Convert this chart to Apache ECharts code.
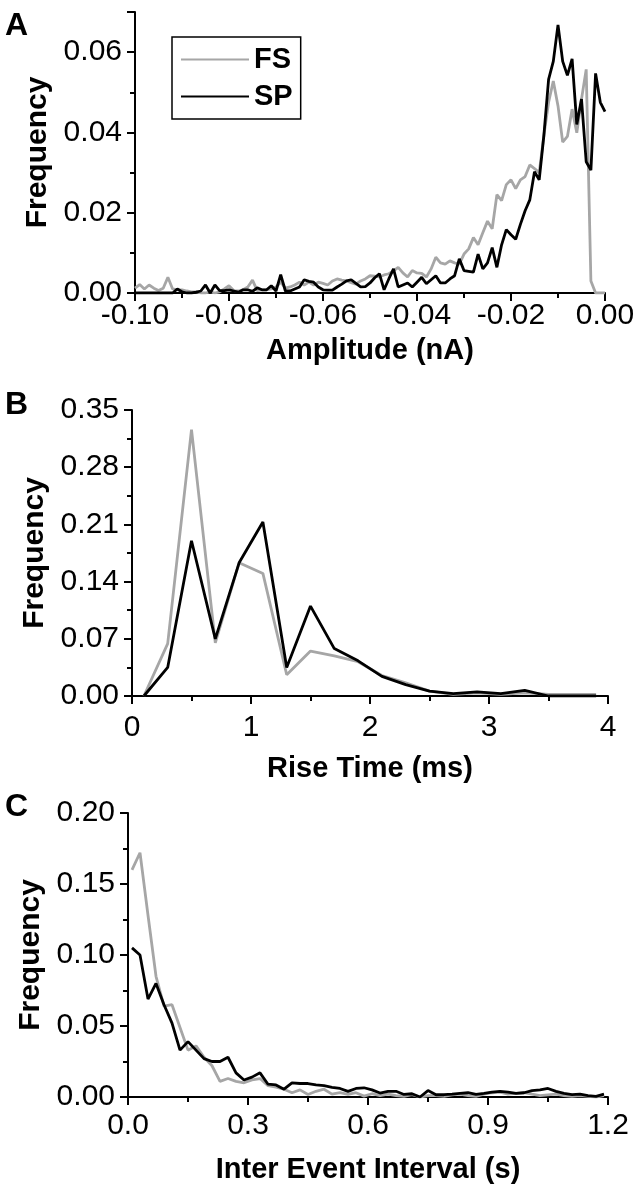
<!DOCTYPE html>
<html><head><meta charset="utf-8">
<script src="https://cdn.jsdelivr.net/npm/echarts@6/dist/echarts.min.js"></script>
<style>html,body{margin:0;padding:0;background:#fff}#c{width:638px;height:1199px}</style>
</head><body><div id="c"></div>
<script>
// ---------- Panel A: Amplitude (nA) ----------
const ampX = [-0.100,-0.099,-0.098,-0.097,-0.096,-0.095,-0.094,-0.093,-0.092,-0.091,
-0.090,-0.089,-0.088,-0.087,-0.086,-0.085,-0.084,-0.083,-0.082,-0.081,
-0.080,-0.079,-0.078,-0.077,-0.076,-0.075,-0.074,-0.073,-0.072,-0.071,
-0.070,-0.069,-0.068,-0.067,-0.066,-0.065,-0.064,-0.063,-0.062,-0.061,
-0.060,-0.059,-0.058,-0.057,-0.056,-0.055,-0.054,-0.053,-0.052,-0.051,
-0.050,-0.049,-0.048,-0.047,-0.046,-0.045,-0.044,-0.043,-0.042,-0.041,
-0.040,-0.039,-0.038,-0.037,-0.036,-0.035,-0.034,-0.033,-0.032,-0.031,
-0.030,-0.029,-0.028,-0.027,-0.026,-0.025,-0.024,-0.023,-0.022,-0.021,
-0.020,-0.019,-0.018,-0.017,-0.016,-0.015,-0.014,-0.013,-0.012,-0.011,
-0.010,-0.009,-0.008,-0.007,-0.006,-0.005,-0.004,-0.003,-0.002,-0.001,
0.000];
const ampFS = [0.0012,0.0021,0.001,0.002,0.0012,0.0006,0.0012,0.0039,0.001,0.0008,
0.0008,0.0005,0.0003,0.0003,0.0,0.0,0.0003,0.0,0.0003,0.001,
0.0018,0.0006,0.0005,0.0008,0.0015,0.0032,0.0006,0.0008,0.0008,0.001,
0.0015,0.0027,0.0012,0.0015,0.002,0.0027,0.002,0.0027,0.002,0.0027,
0.0024,0.002,0.003,0.0035,0.0032,0.003,0.0026,0.0022,0.003,0.0035,
0.0043,0.0042,0.004,0.0045,0.0048,0.0055,0.0064,0.005,0.004,0.0056,
0.005,0.0049,0.004,0.006,0.0089,0.0075,0.0072,0.008,0.0075,0.0072,
0.0097,0.011,0.0138,0.012,0.015,0.0179,0.016,0.0245,0.023,0.027,
0.0282,0.026,0.0282,0.029,0.0319,0.031,0.030,0.0393,0.0475,0.0528,
0.0466,0.0376,0.039,0.0458,0.0399,0.0483,0.0557,0.003,0.0,0.0,
0.0];
const ampSP = [0,0,0,0,0,0,0,0,0,0.001,
0.0003,0,0,0.0002,0.0005,0.002,0.0,0.002,0.0006,0.0006,
0.0008,0.0005,0.0002,0.0008,0.0008,0.0004,0.0013,0.0008,0.0008,0.0018,
0.0005,0.0046,0.0005,0.0005,0.001,0.0015,0.0033,0.0029,0.0027,0.0015,
0.0008,0.0007,0.0007,0.0015,0.0022,0.003,0.0033,0.0024,0.0015,0.0016,
0.0025,0.0038,0.0048,0.0008,0.0035,0.006,0.0015,0.002,0.0025,0.0015,
0.0027,0.0039,0.0023,0.0033,0.0043,0.0025,0.0025,0.0035,0.0043,0.0085,
0.0056,0.0054,0.0052,0.0097,0.006,0.0075,0.0113,0.0064,0.012,0.0158,
0.0145,0.0134,0.0171,0.0205,0.0232,0.0302,0.0282,0.0393,0.0532,0.0577,
0.0668,0.0577,0.0542,0.0583,0.042,0.0483,0.0327,0.0306,0.0547,0.0475,
0.0452];

// ---------- Panel B: Rise Time (ms) ----------
const riseX  = [0.1,0.3,0.5,0.7,0.9,1.1,1.3,1.5,1.7,1.9,2.1,2.3,2.5,2.7,2.9,3.1,3.3,3.5,3.7,3.9];
const riseFS = [0,0.064,0.326,0.065,0.163,0.150,0.026,0.055,0.049,0.042,0.025,0.016,0.006,0.002,0.004,0.002,0.004,0.002,0.002,0.002];
const riseSP = [0,0.035,0.190,0.070,0.163,0.213,0.035,0.110,0.058,0.043,0.024,0.014,0.006,0.003,0.005,0.003,0.007,0.0,0.0,0.0];

// ---------- Panel C: Inter Event Interval (s) ----------
const ieiX = [0.01,0.03,0.05,0.07,0.09,0.11,0.13,0.15,0.17,0.19,
0.21,0.23,0.25,0.27,0.29,0.31,0.33,0.35,0.37,0.39,
0.41,0.43,0.45,0.47,0.49,0.51,0.53,0.55,0.57,0.59,
0.61,0.63,0.65,0.67,0.69,0.71,0.73,0.75,0.77,0.79,
0.81,0.83,0.85,0.87,0.89,0.91,0.93,0.95,0.97,0.99,
1.01,1.03,1.05,1.07,1.09,1.11,1.13,1.15,1.17,1.19];
const ieiFS = [0.160,0.172,0.128,0.085,0.064,0.065,0.049,0.033,0.036,0.028,
0.022,0.011,0.013,0.011,0.010,0.012,0.013,0.008,0.007,0.0055,
0.003,0.005,0.0018,0.004,0.0055,0.002,0.003,0.0018,0.003,0.0006,
0.0023,0.001,0.002,0.001,0.0005,0.0017,0.0,0.001,0.001,0.0005,
0.0015,0.002,0.001,0.0005,0.002,0.003,0.0035,0.002,0.0025,0.003,
0.002,0.001,0.0015,0.002,0.001,0.0005,0.001,0.0005,0.0,0.001];
const ieiSP = [0.105,0.100,0.069,0.080,0.065,0.052,0.033,0.039,0.033,0.027,
0.025,0.025,0.028,0.017,0.012,0.014,0.017,0.009,0.0085,0.0055,
0.010,0.0095,0.0095,0.0085,0.008,0.0068,0.006,0.004,0.006,0.0065,
0.005,0.0028,0.004,0.004,0.0018,0.0023,0.0,0.0045,0.0016,0.0016,
0.002,0.0025,0.003,0.0018,0.0025,0.0035,0.004,0.0035,0.0025,0.003,
0.0045,0.005,0.006,0.004,0.0025,0.0016,0.002,0.001,0.0005,0.002];

const FONT = '"Liberation Sans", Arial, Helvetica, sans-serif';
const GREY = '#a6a6a6';
const pair = (xs, ys) => xs.map((x, i) => [x, ys[i]]);

const axisBase = {
  axisLine: {show: true, onZero: false, lineStyle: {color: '#000', width: 2}},
  axisTick: {show: true, inside: false, length: 8, lineStyle: {color: '#000', width: 2}},
  minorTick: {show: true, splitNumber: 2, length: 5, lineStyle: {color: '#000', width: 2}},
  splitLine: {show: false},
  axisLabel: {color: '#000', fontSize: 30, fontFamily: FONT},
  nameLocation: 'middle'
};
function xAx(idx, min, max, interval, dec, name, margin, gap) {
  return Object.assign({}, axisBase, {
    type: 'value', gridIndex: idx, min, max, interval, name, nameGap: gap,
    nameTextStyle: {color: '#000', fontSize: 29, fontWeight: 'bold', fontFamily: FONT},
    axisLabel: Object.assign({}, axisBase.axisLabel, {margin, formatter: v => v.toFixed(dec)})
  });
}
function yAx(idx, min, max, interval, dec, extra) {
  return Object.assign({}, axisBase, {
    type: 'value', gridIndex: idx, min, max, interval, name: 'Frequency', nameGap: 82,
    nameTextStyle: {color: '#000', fontSize: 30, fontWeight: 'bold', fontFamily: FONT},
    axisLabel: Object.assign({}, axisBase.axisLabel, {margin: 13, formatter: v => v.toFixed(dec)}, extra || {})
  });
}
function line(name, idx, data, color) {
  return {
    type: 'line', name, xAxisIndex: idx, yAxisIndex: idx, data, symbol: 'none',
    lineStyle: {color, width: 2.8}, itemStyle: {color}, z: name === 'SP' ? 3 : 2, animation: false
  };
}
const letterStyle = {fontSize: 32, fontWeight: 'bold', fontFamily: FONT, color: '#000'};

const chart = echarts.init(document.getElementById('c'), null, {renderer: 'canvas'});
chart.setOption({
  backgroundColor: '#fff',
  animation: false,
  title: [
    {text: 'A', left: 0, top: 5, textStyle: letterStyle},
    {text: 'B', left: 0, top: 384, textStyle: letterStyle},
    {text: 'C', left: 0, top: 786, textStyle: letterStyle}
  ],
  legend: {
    data: ['FS', 'SP'], orient: 'vertical', left: 172, top: 37,
    borderColor: '#000', borderWidth: 1.5, padding: [8, 8, 8, 8],
    itemWidth: 68, itemHeight: 14, itemGap: 8,
    itemStyle: {opacity: 0},
    textStyle: {fontSize: 29, fontWeight: 'bold', fontFamily: FONT, color: '#000'}
  },
  grid: [
    {left: 135, top: 12, width: 470, height: 281},
    {left: 132, top: 410, width: 476, height: 286},
    {left: 128, top: 813, width: 480, height: 284}
  ],
  xAxis: [
    xAx(0, -0.1, 0, 0.02, 2, 'Amplitude (nA)', 8, 43),
    xAx(1, 0, 4, 1, 0, 'Rise Time (ms)', 17, 58),
    xAx(2, 0, 1.2, 0.3, 1, 'Inter Event Interval (s)', 14, 58)
  ],
  yAxis: [
    yAx(0, 0, 0.07, 0.02, 2, {showMaxLabel: false}),
    yAx(1, 0, 0.35, 0.07, 2),
    yAx(2, 0, 0.20, 0.05, 2)
  ],
  series: [
    line('FS', 0, pair(ampX, ampFS), GREY),
    line('SP', 0, pair(ampX, ampSP), '#000'),
    line('FS', 1, pair(riseX, riseFS), GREY),
    line('SP', 1, pair(riseX, riseSP), '#000'),
    line('FS', 2, pair(ieiX, ieiFS), GREY),
    line('SP', 2, pair(ieiX, ieiSP), '#000')
  ]
});
</script></body></html>
